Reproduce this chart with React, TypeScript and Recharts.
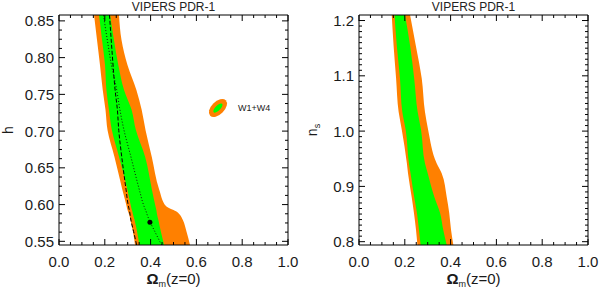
import { ComposedChart, Area, Line, Scatter, XAxis, YAxis } from 'recharts';

const ORANGE = '#ff8000';
const GREEN = '#00ff00';
const INK = '#1a1a1a';
const FONT = '"Liberation Sans", Arial, Helvetica, sans-serif';

// left panel: h vs Omega_m (rows from bottom to top)
const hRows = [0.545, 0.563, 0.579, 0.587, 0.591, 0.594, 0.598, 0.62, 0.665, 0.701, 0.729, 0.756, 0.79, 0.824, 0.858];
const hOrangeLo = [0.332, 0.323, 0.312, 0.306, 0.301, 0.298, 0.295, 0.277, 0.242, 0.212, 0.203, 0.191, 0.179, 0.166, 0.153];
const hOrangeHi = [0.572, 0.557, 0.541, 0.526, 0.511, 0.489, 0.467, 0.438, 0.405, 0.378, 0.361, 0.338, 0.299, 0.273, 0.262];
const hGreenLo = [0.351, 0.341, 0.33, 0.323, 0.32, 0.317, 0.314, 0.299, 0.262, 0.231, 0.218, 0.207, 0.201, 0.188, 0.175];
const hGreenHi = [0.459, 0.445, 0.434, 0.428, 0.426, 0.424, 0.421, 0.406, 0.376, 0.336, 0.317, 0.284, 0.259, 0.24, 0.223];
const hDashed = [0.339, 0.326, 0.314, 0.31, 0.308, 0.306, 0.303, 0.293, 0.274, 0.261, 0.255, 0.245, 0.236, 0.228, 0.2205];
const hDotted = [0.448, 0.419, 0.394, 0.384, 0.38, 0.376, 0.371, 0.351, 0.314, 0.284, 0.266, 0.252, 0.229, 0.211, 0.194];
const bestFit = [{ x: 0.397, h: 0.576 }];
const w14 = [{ x: 0.694, h: 0.7314 }];

// right panel: n_s vs Omega_m
const nsRows = [0.794, 0.821, 0.852, 0.881, 0.924, 0.942, 1.002, 1.035, 1.095, 1.155, 1.21];
const nsOrangeLo = [0.255, 0.249, 0.24, 0.23, 0.214, 0.209, 0.187, 0.173, 0.162, 0.151, 0.143];
const nsOrangeHi = [0.412, 0.402, 0.394, 0.383, 0.361, 0.339, 0.302, 0.288, 0.274, 0.248, 0.223];
const nsGreenLo = [0.269, 0.262, 0.253, 0.241, 0.225, 0.218, 0.204, 0.189, 0.179, 0.165, 0.155];
const nsGreenHi = [0.383, 0.368, 0.354, 0.329, 0.3, 0.288, 0.271, 0.256, 0.241, 0.223, 0.201];

// ticks
const steps = (a: number, b: number, d: number) =>
  Array.from({ length: Math.round((b - a) / d) + 1 }, (_, i) => +(a + i * d).toFixed(4));
const omMajor = [0, 0.2, 0.4, 0.6, 0.8, 1.0];
const omMinor = steps(0, 1, 0.05);
const hMajor = [0.55, 0.6, 0.65, 0.7, 0.75, 0.8, 0.85];
const hMinor = steps(0.55, 0.85, 0.0125);
const nsMajor = [0.8, 0.9, 1.0, 1.1, 1.2];
const nsMinor = steps(0.8, 1.2, 0.01);

const leftData = hRows.map((h, i) => ({
  h,
  orange: [hOrangeLo[i], hOrangeHi[i]],
  green: [hGreenLo[i], hGreenHi[i]],
  dashed: hDashed[i],
  dotted: hDotted[i],
}));

const rightData = nsRows.map((h, i) => ({
  h,
  orange: [nsOrangeLo[i], nsOrangeHi[i]],
  green: [nsGreenLo[i], nsGreenHi[i]],
}));

function Tick(props: any) {
  const { x, y, payload, side, majors, digits } = props;
  const v = payload.value;
  const major = majors.some((m: number) => Math.abs(m - v) < 1e-6);
  const len = major ? 6 : 3;
  let line;
  if (side === 'bottom') line = <line x1={x} y1={y} x2={x} y2={y - len} stroke="#000" />;
  else if (side === 'top') line = <line x1={x} y1={y} x2={x} y2={y + len} stroke="#000" />;
  else if (side === 'left') line = <line x1={x} y1={y} x2={x + len} y2={y} stroke="#000" />;
  else line = <line x1={x} y1={y} x2={x - len} y2={y} stroke="#000" />;
  let label = null;
  if (major && digits != null) {
    if (side === 'bottom') {
      label = (
        <text x={x} y={y + 22} textAnchor="middle" fontSize={15} fontFamily={FONT} fill={INK}>
          {v.toFixed(digits)}
        </text>
      );
    } else if (side === 'left') {
      label = (
        <text x={x - 5} y={y} dy="0.36em" textAnchor="end" fontSize={15} fontFamily={FONT} fill={INK}>
          {v.toFixed(digits)}
        </text>
      );
    }
  }
  return (
    <g>
      {line}
      {label}
    </g>
  );
}

function XTitle(props: any) {
  const vb = props.viewBox || {};
  const cx = vb.x + vb.width / 2;
  const y = vb.y + 39;
  return (
    <text x={cx} y={y} textAnchor="middle" fontSize={15} fontFamily={FONT} fill={INK}>
      <tspan fontWeight="bold">Ω</tspan>
      <tspan fontSize={9} dy={3}>m</tspan>
      <tspan dy={-3}>(z=0)</tspan>
    </text>
  );
}

function YTitle(props: any) {
  const vb = props.viewBox || {};
  const x = vb.x + (vb.width || 0) - props.gap;
  const cy = vb.y + vb.height / 2;
  return (
    <text
      x={x}
      y={cy}
      transform={`rotate(-90 ${x} ${cy})`}
      textAnchor="middle"
      fontSize={14}
      fontFamily={FONT}
      fill={INK}
    >
      {props.main}
      {props.sub && (
        <tspan fontSize={9} dy={3}>
          {props.sub}
        </tspan>
      )}
    </text>
  );
}

function W14Marker(props: any) {
  const { cx, cy } = props;
  return (
    <g>
      <ellipse cx={cx} cy={cy} rx={11} ry={6.5} fill={ORANGE} transform={`rotate(-45 ${cx} ${cy})`} />
      <ellipse cx={cx} cy={cy} rx={6} ry={2.5} fill={GREEN} transform={`rotate(-45 ${cx} ${cy})`} />
      <text x={cx + 20} y={cy + 2.5} fontSize={9} fontFamily={FONT} fill={INK}>
        W1+W4
      </text>
    </g>
  );
}

// axes are 1px thick so that Recharts draws them; margins compensate
const margin = { top: 14, right: 11, bottom: 43, left: 58 };

function Frame({ yDomain, yTicks, yMajor, yDigits, yMain, ySub, titleGap }: any) {
  return [
    <XAxis
      key="xb"
      type="number"
      domain={[0, 1]}
      allowDataOverflow
      ticks={omMinor}
      interval={0}
      height={1}
      tickSize={0}
      tickMargin={0}
      tickLine={false}
      axisLine={{ stroke: '#000' }}
      tick={(p: any) => <Tick {...p} side="bottom" majors={omMajor} digits={1} />}
      label={(p: any) => <XTitle {...p} />}
    />,
    <XAxis
      key="xt"
      xAxisId="top"
      orientation="top"
      type="number"
      domain={[0, 1]}
      allowDataOverflow
      ticks={omMinor}
      interval={0}
      height={1}
      tickSize={0}
      tickMargin={0}
      tickLine={false}
      axisLine={{ stroke: '#000' }}
      tick={(p: any) => <Tick {...p} side="top" majors={omMajor} />}
      label={{ value: 'VIPERS PDR-1', position: 'top', offset: 3, fontSize: 12, fontFamily: FONT, fill: '#222' }}
    />,
    <YAxis
      key="yl"
      type="number"
      dataKey="h"
      reversed
      domain={yDomain}
      allowDataOverflow
      ticks={yTicks}
      interval={0}
      width={1}
      tickSize={0}
      tickMargin={0}
      tickLine={false}
      axisLine={{ stroke: '#000' }}
      tick={(p: any) => <Tick {...p} side="left" majors={yMajor} digits={yDigits} />}
      label={(p: any) => <YTitle {...p} main={yMain} sub={ySub} gap={titleGap} />}
    />,
    <YAxis
      key="yr"
      yAxisId="right"
      orientation="right"
      type="number"
      dataKey="h"
      reversed
      domain={yDomain}
      allowDataOverflow
      ticks={yTicks}
      interval={0}
      width={1}
      tickSize={0}
      tickMargin={0}
      tickLine={false}
      axisLine={{ stroke: '#000' }}
      tick={(p: any) => <Tick {...p} side="right" majors={yMajor} />}
    />,
  ];
}

export default function App() {
  return (
    <div
      style={{
        position: 'absolute',
        left: 0,
        top: 0,
        width: 600,
        height: 289,
        background: '#fff',
        display: 'flex',
      }}
    >
      <ComposedChart width={300} height={289} layout="vertical" data={leftData} margin={margin}>
        {Frame({ yDomain: [0.545, 0.858], yTicks: hMinor, yMajor: hMajor, yDigits: 2, yMain: 'h', titleGap: 46 })}
        <Area dataKey="orange" type="monotone" fill={ORANGE} fillOpacity={1} stroke="none" isAnimationActive={false} />
        <Area dataKey="green" type="monotone" fill={GREEN} fillOpacity={1} stroke="none" isAnimationActive={false} />
        <Line
          dataKey="dashed"
          type="monotone"
          stroke="#000"
          strokeWidth={1}
          strokeDasharray="4 2"
          dot={false}
          activeDot={false}
          isAnimationActive={false}
        />
        <Line
          dataKey="dotted"
          type="monotone"
          stroke="#111"
          strokeWidth={1}
          strokeDasharray="1 2"
          dot={false}
          activeDot={false}
          isAnimationActive={false}
        />
        <Scatter
          data={bestFit}
          dataKey="x"
          isAnimationActive={false}
          shape={(p: any) => <circle cx={p.cx} cy={p.cy} r={2.5} fill="#000" />}
        />
        <Scatter data={w14} dataKey="x" isAnimationActive={false} shape={(p: any) => <W14Marker {...p} />} />
      </ComposedChart>
      <ComposedChart width={300} height={289} layout="vertical" data={rightData} margin={margin}>
        {Frame({ yDomain: [0.794, 1.21], yTicks: nsMinor, yMajor: nsMajor, yDigits: 1, yMain: 'n', ySub: 's', titleGap: 42 })}
        <Area dataKey="orange" type="monotone" fill={ORANGE} fillOpacity={1} stroke="none" isAnimationActive={false} />
        <Area dataKey="green" type="monotone" fill={GREEN} fillOpacity={1} stroke="none" isAnimationActive={false} />
      </ComposedChart>
    </div>
  );
}
